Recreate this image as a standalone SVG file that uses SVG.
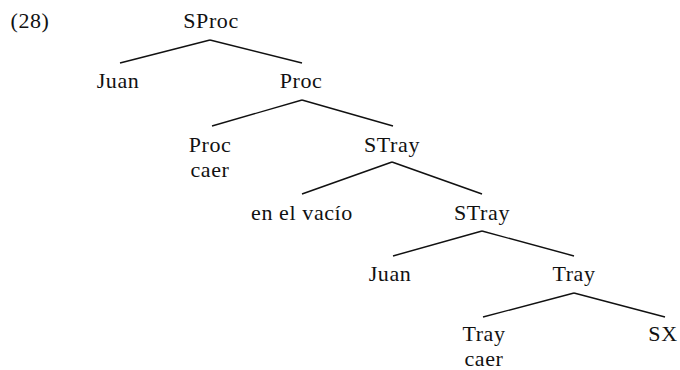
<svg xmlns="http://www.w3.org/2000/svg" width="680" height="370" viewBox="0 0 680 370">
<style>
.t text{font-size:22px;letter-spacing:0.6px;fill:#111;text-anchor:middle}
.conn line{stroke:#111;stroke-width:1.4;fill:none}
</style>
<rect width="680" height="370" fill="#fff"/>
<g class="t" font-family="Liberation Serif, DejaVu Serif, Times New Roman, serif">
<text x="30" y="28">(28)</text>
<g id="n-sproc"><text x="211" y="28">SProc</text></g>
<g id="n-juan1"><text x="118" y="88">Juan</text></g>
<g id="n-proc"><text x="301" y="88">Proc</text></g>
<g id="n-proc-caer"><text x="210" y="152">Proc</text><text x="210" y="177">caer</text></g>
<g id="n-stray1"><text x="392" y="152">STray</text></g>
<g id="n-vacio"><text x="302" y="220">en el vacío</text></g>
<g id="n-stray2"><text x="482" y="220">STray</text></g>
<g id="n-juan2"><text x="390" y="281">Juan</text></g>
<g id="n-tray"><text x="574" y="281">Tray</text></g>
<g id="n-tray-caer"><text x="484" y="341">Tray</text><text x="484" y="366">caer</text></g>
<g id="n-sx"><text x="663" y="341">SX</text></g>
</g>
<g class="conn" id="connectors">
<line x1="210" y1="40" x2="120" y2="63"/>
<line x1="210" y1="40" x2="302" y2="63"/>
<line x1="302" y1="100" x2="212" y2="126"/>
<line x1="302" y1="100" x2="393" y2="126"/>
<line x1="392" y1="162" x2="302" y2="194"/>
<line x1="392" y1="162" x2="482" y2="194"/>
<line x1="482" y1="231" x2="393" y2="256"/>
<line x1="482" y1="231" x2="574" y2="256"/>
<line x1="574" y1="293" x2="483" y2="317"/>
<line x1="574" y1="293" x2="665" y2="317"/>
</g>
</svg>
